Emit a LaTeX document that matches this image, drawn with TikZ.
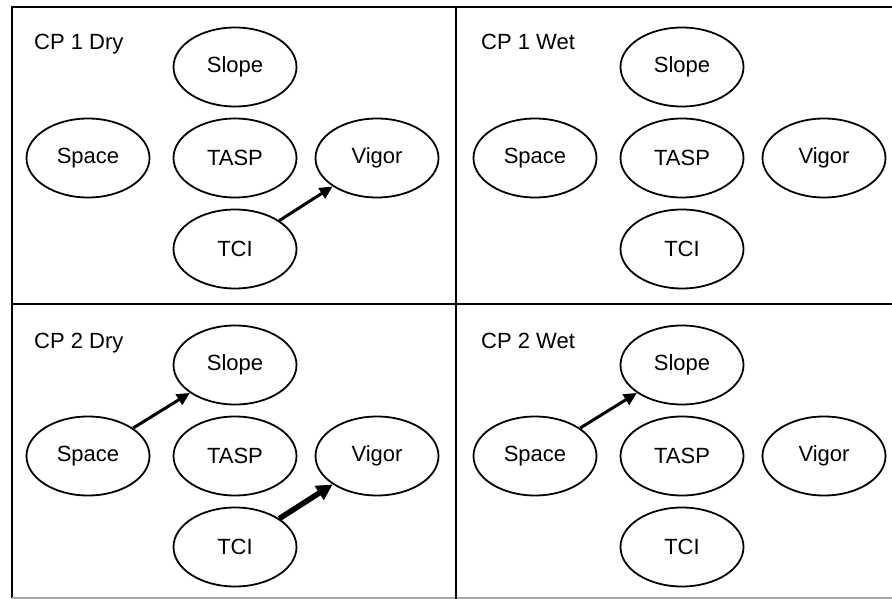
\documentclass[tikz,border=0pt]{standalone}
\usepackage{fontspec}
\setmainfont{Liberation Sans}
\usetikzlibrary{shapes.geometric,arrows.meta}
\tikzset{
  var/.style={ellipse, draw, line width=1.8pt, inner sep=0pt, minimum width=123pt, minimum height=79pt, font=\fontsize{22}{25}\selectfont},
  plabel/.style={anchor=base west, inner sep=0pt, font=\fontsize{22}{25}\selectfont},
  frame/.style={line width=2pt},
  link/.style={line width=3pt, -{Triangle[length=13pt,width=12pt]}},
  strong/.style={line width=5.5pt, -{Triangle[length=16pt,width=16pt]}}
}
\newcommand\drawpanel[4]{%
  \node[plabel] (#1lab) at (#2+34,#3+50) {#4};
  \node[var] (#1slope) at (#2+235,#3+67) {Slope};
  \node[var] (#1tasp) at (#2+235,#3+158) {TASP};
  \node[var] (#1tci) at (#2+235,#3+249) {TCI};
  \node[var] (#1space) at (#2+88,#3+158) {Space};
  \node[var] (#1vigor) at (#2+377,#3+158) {Vigor};
}
\begin{document}
\begin{tikzpicture}[x=1pt,y=-1pt]
\useasboundingbox (0,0) rectangle (892,599);
% frame
\coordinate (tl) at (12,7);
\coordinate (tr) at (892,7);
\coordinate (bl) at (12,598);
\coordinate (br) at (892,598);
\coordinate (vt) at (456,7);
\coordinate (vb) at (456,599);
\coordinate (hl) at (12,304);
\coordinate (hr) at (892,304);
\draw[frame] (tr) -- (tl) -- (bl);
\draw[line width=1.2pt, black!35] (bl) -- (br);
\draw[frame] (vt) -- (vb);
\draw[frame] (hl) -- (hr);
% panels
\drawpanel{a}{0}{0}{CP 1 Dry}
\drawpanel{b}{447}{0}{CP 1 Wet}
\drawpanel{c}{0}{298}{CP 2 Dry}
\drawpanel{d}{447}{298}{CP 2 Wet}
% arrows
\draw[link] (atci) -- (avigor);
\draw[link] (cspace) -- (cslope);
\draw[strong] (ctci) -- (cvigor);
\draw[link] (dspace) -- (dslope);
\end{tikzpicture}
\end{document}
